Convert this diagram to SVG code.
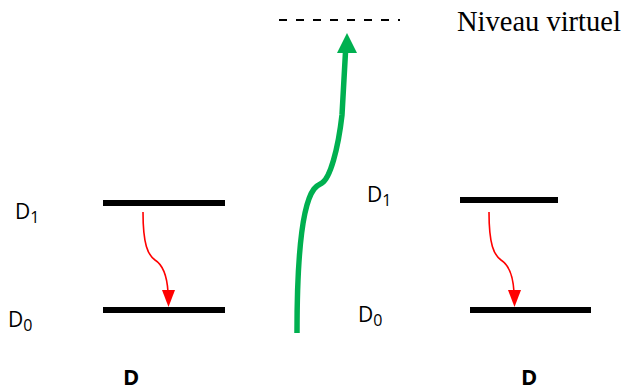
<svg xmlns="http://www.w3.org/2000/svg" width="625" height="390" viewBox="0 0 625 390">
<style>
.lvl{stroke:#000;stroke-width:6;}
.lbl{font-family:"Open Sans","Liberation Sans",sans-serif;font-size:21px;fill:#000;}
.sub{font-size:16px;}
.bold{font-family:"Open Sans","Liberation Sans",sans-serif;font-size:22px;font-weight:bold;fill:#000;}
.red{fill:none;stroke:#ff0000;stroke-width:1.6;}
</style>
<rect width="625" height="390" fill="#fff"/>
<g id="left-D">
<line class="lvl" x1="103" y1="203" x2="225" y2="203"/>
<line class="lvl" x1="103" y1="310" x2="225" y2="310"/>
<text class="lbl" x="15" y="219">D<tspan class="sub" dy="4">1</tspan></text>
<text class="lbl" x="8" y="327">D<tspan class="sub" dy="4">0</tspan></text>
<text class="bold" x="123" y="385">D</text>
</g>
<g id="right-D">
<line class="lvl" x1="460" y1="200" x2="558" y2="200"/>
<line class="lvl" x1="470" y1="310" x2="591" y2="310"/>
<text class="lbl" x="367" y="202">D<tspan class="sub" dy="4">1</tspan></text>
<text class="lbl" x="358" y="322">D<tspan class="sub" dy="4">0</tspan></text>
<text class="bold" x="521" y="385">D</text>
</g>
<g id="virtual">
<line x1="279" y1="20" x2="400" y2="20" stroke="#000" stroke-width="2" stroke-dasharray="8,9"/>
<text x="457" y="31" font-family="'Liberation Serif',serif" font-size="28.5" fill="#000">Niveau virtuel</text>
</g>
<g id="connectors">
<path class="red" d="M143,212 C143,245 148,255 155,260 C163,265 167,275 168,292"/>
<path d="M162,290 L175,290 L168.5,307 Z" fill="#ff0000"/>
<path class="red" d="M489,212 C489,245 494,255 501,260 C509,265 513,275 514,292"/>
<path d="M508,290 L521,290 L514.5,307 Z" fill="#ff0000"/>
<path d="M297,333 C297,260 302,205 314,189 C317,185 320,184 322,183 C330,178 338,150 342,115 L345.5,52" fill="none" stroke="#00b050" stroke-width="5.5"/>
<path d="M337,53 L357,53 L347,33 Z" fill="#00b050"/>
</g>
</svg>
